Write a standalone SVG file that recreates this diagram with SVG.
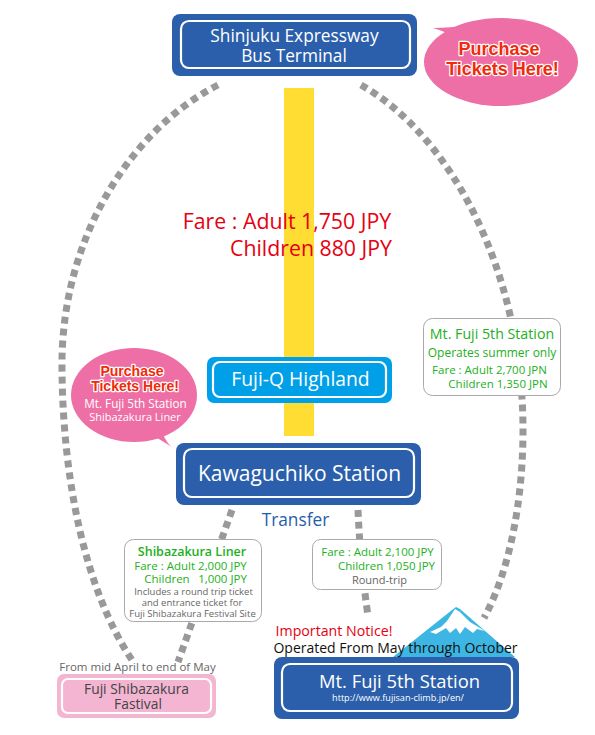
<svg xmlns="http://www.w3.org/2000/svg" width="595" height="735" viewBox="0 0 595 735">
<style>
text{font-family:"Open Sans","Noto Sans",sans-serif;text-anchor:middle}
.w{fill:#fff}
.in{fill:none;stroke:#fff;stroke-width:2.200}
.d{fill:none;stroke:#999;stroke-width:7;stroke-dasharray:7 5}
.blue{fill:#2b5fab}
.box{fill:#fff;stroke:#aaa;stroke-width:1}
.g{fill:#22b022}
.p{fill:#ee6fa6}
.t{font-family:"Liberation Sans",sans-serif;font-weight:700;fill:#f02a0a;stroke:#fff;stroke-width:2.500;paint-order:stroke;stroke-linejoin:round}
.r{fill:#e60012}
.k{fill:#666}
</style>
<g id="connectors">
<path class="d" d="M218 85C130 130 60 240 62 370C63 480 85 590 132 660"/>
<path class="d" d="M361 85C450 135 523 270 523 430C523 500 510 570 484 618"/>
<path class="d" d="M232 510L178 662"/>
<path class="d" d="M358 510Q360 560 368 616"/>
</g>
<g id="line-yellow"><rect x="284" y="88" width="30" height="348" fill="#ffdd33"/></g>
<g id="fare">
<text font-size="21.300" fill="#e60012"><tspan x="287" y="229">Fare : Adult 1,750 JPY</tspan><tspan x="311" y="256">Children 880 JPY</tspan></text>
</g>
<g id="node-shinjuku">
<rect class="blue" x="172" y="14" width="245" height="62" rx="8"/>
<rect class="in" x="181" y="21" width="229" height="47" rx="8"/>
<text class="w" font-size="17.300"><tspan x="294.500" y="42">Shinjuku Expressway</tspan><tspan x="294" y="62">Bus Terminal</tspan></text>
</g>
<g id="bubble-top">
<ellipse class="p" cx="501" cy="62" rx="77" ry="44"/>
<path class="p" d="M433 28Q450 28 470 25L450 36Q445 31 433 28Z"/>
<text class="t" font-size="18"><tspan x="499" y="55">Purchase</tspan><tspan x="502.500" y="75">Tickets Here!</tspan></text>
</g>
<g id="node-fujiq">
<rect x="207" y="357" width="185" height="46" rx="7" fill="#00a0e9"/>
<rect class="in" x="213" y="362" width="173" height="35" rx="7"/>
<text class="w" x="300.500" y="386" font-size="19.300">Fuji-Q Highland</text>
</g>
<g id="bubble-left">
<ellipse class="p" cx="134" cy="395" rx="63" ry="47"/>
<path class="p" d="M154 436L174.500 448.500Q167 445 162 432Z"/>
<text class="t" font-size="14"><tspan x="132" y="376">Purchase</tspan><tspan x="135" y="391">Tickets Here!</tspan></text>
<text class="w" font-size="11.700"><tspan x="135.500" y="408">Mt. Fuji 5th Station</tspan><tspan x="135" y="421" font-size="11">Shibazakura Liner</tspan></text>
</g>
<g id="node-kawaguchiko">
<rect class="blue" x="176" y="443" width="245" height="62" rx="8"/>
<rect class="in" x="184" y="449" width="230" height="48" rx="8"/>
<text class="w" x="299.500" y="481" font-size="21">Kawaguchiko Station</text>
</g>
<g id="label-transfer"><text x="295.500" y="526" font-size="17.300" fill="#1f5fa8">Transfer</text></g>
<g id="info-summer">
<rect class="box" x="423.500" y="318.500" width="137" height="77" rx="9"/>
<text class="g" font-size="14.200"><tspan x="492" y="339">Mt. Fuji 5th Station</tspan><tspan x="492" y="357" font-size="12">Operates summer only</tspan><tspan x="489.500" y="374" font-size="11.500">Fare : Adult 2,700 JPN</tspan><tspan x="498" y="388" font-size="11.500">Children 1,350 JPN</tspan></text>
</g>
<g id="info-liner">
<rect class="box" x="124.500" y="539.500" width="137" height="82" rx="9"/>
<text class="g" font-size="11.500"><tspan x="192" y="556" font-size="12.500" font-weight="600">Shibazakura Liner</tspan><tspan x="190.500" y="570">Fare : Adult 2,000 JPY</tspan><tspan x="167" y="583">Children</tspan><tspan x="222.500" y="583">1,000 JPY</tspan></text>
<text class="k" font-size="9.500"><tspan x="193.500" y="595">Includes a round trip ticket</tspan><tspan x="192" y="606">and entrance ticket for</tspan><tspan x="192.500" y="617">Fuji Shibazakura Festival Site</tspan></text>
</g>
<g id="info-fare">
<rect class="box" x="312.500" y="539.500" width="129" height="50" rx="8"/>
<text class="g" font-size="11.500"><tspan x="377.500" y="556">Fare : Adult 2,100 JPY</tspan><tspan x="386.500" y="570">Children 1,050 JPY</tspan></text>
<text class="k" x="379.500" y="584" font-size="11">Round-trip</text>
</g>
<g id="mountain">
<path d="M393 657L452 610L456 607L460 609L515 657Z" fill="#3db6e4"/>
<path d="M430 632L441 627L447 621L455 609L460 612L470 622L485 631L477 629L473 633L465 627L460 634L456 628L450 633L446 628L436 634Z" fill="#fff"/>
</g>
<g id="notice">
<text font-size="14.200"><tspan x="334" y="636" class="r">Important Notice!</tspan><tspan x="395.500" y="653" font-size="14" fill="#111">Operated From May through October</tspan></text>
</g>
<g id="label-period"><text x="137.500" y="671" font-size="11.500" fill="#666">From mid April to end of May</text></g>
<g id="node-festival">
<rect x="57" y="674" width="159" height="44" rx="7" fill="#f3b5d1"/>
<rect class="in" x="62" y="679" width="149" height="34" rx="6"/>
<text font-size="13.800" fill="#444"><tspan x="136.500" y="694">Fuji Shibazakura</tspan><tspan x="138" y="709">Fastival</tspan></text>
</g>
<g id="node-fuji5">
<rect class="blue" x="274" y="657" width="245" height="62" rx="8"/>
<rect class="in" x="282" y="664" width="230" height="47" rx="8"/>
<text class="w" font-size="18.400"><tspan x="399.500" y="688">Mt. Fuji 5th Station</tspan><tspan x="398" y="701" font-size="9.100">http://www.fujisan-climb.jp/en/</tspan></text>
</g>
</svg>
